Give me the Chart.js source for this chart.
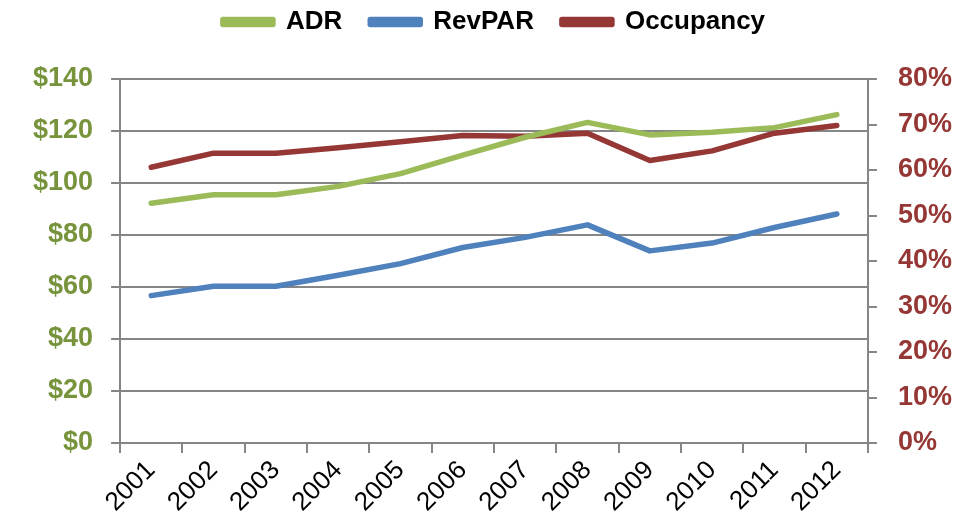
<!DOCTYPE html>
<html>
<head>
<meta charset="utf-8">
<script src="https://cdn.jsdelivr.net/npm/chart.js@4"></script>
<style>
  html, body { margin: 0; padding: 0; background: #fff; }
  #wrap { width: 977px; height: 529px; }
</style>
</head>
<body>
<div id="wrap"><canvas id="chart" width="977" height="529"></canvas></div>
<script>
// Chart data
const years = ["2001", "2002", "2003", "2004", "2005", "2006", "2007", "2008", "2009", "2010", "2011", "2012"]
const adr = [92.2, 95.5, 95.5, 98.7, 103.6, 110.7, 117.6, 123.3, 118.5, 119.5, 121.3, 126.3]
const revpar = [56.7, 60.3, 60.3, 64.5, 69.0, 75.2, 79.1, 83.9, 73.9, 76.9, 82.9, 88.1]
const occupancy = [60.6, 63.7, 63.7, 64.9, 66.2, 67.6, 67.4, 68.1, 62.1, 64.2, 68.1, 69.8]

const COLORS = {
  adr: "#9BBB59",
  revpar: "#4F81BD",
  occ: "#953735",
  leftTick: "#77933C",
  grid: "#868686",
}
const FONT = "'Liberation Sans', Arial, sans-serif"

// push the plot area down below the legend
const legendGap = {
  id: "legendGap",
  beforeInit(chart) {
    const fit = chart.legend.fit
    chart.legend.fit = function () {
      fit.bind(chart.legend)()
      this.height += 34
    }
  },
}

const line = (label, data, color, axis) => ({
  label,
  data,
  yAxisID: axis,
  borderColor: color,
  backgroundColor: color,
  borderWidth: 5.5,
  borderCapStyle: "round",
  borderJoinStyle: "round",
  pointRadius: 0,
  tension: 0,
})

new Chart(document.getElementById("chart"), {
  type: "line",
  data: {
    labels: years,
    datasets: [
      line("ADR", adr, COLORS.adr, "y"),
      line("RevPAR", revpar, COLORS.revpar, "y"),
      line("Occupancy", occupancy, COLORS.occ, "y1"),
    ],
  },
  plugins: [legendGap],
  options: {
    responsive: false,
    animation: false,
    layout: { padding: { left: 15, right: 4, top: -19, bottom: 9 } },
    plugins: {
      tooltip: { enabled: false },
      legend: {
        position: "top",
        labels: {
          color: "#000",
          font: { family: FONT, size: 26, weight: "bold" },
          boxWidth: 50,
          boxHeight: 5,
          padding: 28,
        },
      },
    },
    scales: {
      x: {
        offset: true,
        grid: {
          offset: true,
          drawOnChartArea: false,
          color: COLORS.grid,
          lineWidth: 2,
          tickLength: 10,
        },
        border: { color: COLORS.grid, width: 2 },
        ticks: {
          color: "#000",
          font: { family: FONT, size: 26 },
          minRotation: 45,
          maxRotation: 45,
          padding: 2,
        },
      },
      y: {
        position: "left",
        min: 0,
        max: 140,
        grid: { color: COLORS.grid, lineWidth: 2, tickLength: 9 },
        border: { color: COLORS.grid, width: 2 },
        ticks: {
          stepSize: 20,
          color: COLORS.leftTick,
          font: { family: FONT, size: 27, weight: "bold" },
          padding: 18,
          callback: (v) => "$" + v,
        },
      },
      y1: {
        position: "right",
        min: 0,
        max: 80,
        grid: { drawOnChartArea: false, color: COLORS.grid, lineWidth: 2, tickLength: 9 },
        border: { color: COLORS.grid, width: 2 },
        ticks: {
          stepSize: 10,
          color: COLORS.occ,
          font: { family: FONT, size: 27, weight: "bold" },
          padding: 21,
          callback: (v) => v + "%",
        },
      },
    },
  },
})
</script>
</body>
</html>
